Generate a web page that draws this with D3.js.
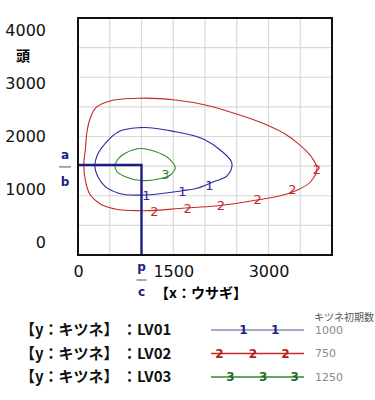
<!DOCTYPE html>
<html>
<head>
<meta charset="utf-8">
<script src="https://cdn.jsdelivr.net/npm/d3@7"></script>
<style>
  body { margin: 0; background: #fff; }
  text { font-family: "DejaVu Sans", "Noto Sans CJK JP", sans-serif; }
  .jp { font-family: "Noto Sans CJK JP", sans-serif; }
  .grid line { stroke: #d9d9d9; stroke-width: 1.2; }
  .orbit { fill: none; stroke-width: 1.1; }
  .axis text { font-size: 16px; fill: #111; }
</style>
</head>
<body>
<svg width="375" height="400"></svg>
<script>
// trajectories: [rabbits x, foxes y]
const lv01 = [[981,2149],[1532,2081],[2005,1941],[2241,1772],[2426,1536],[2347,1334],[2136,1237],[1874,1126],
              [1638,1085],[1060,1013],[639,1042],[430,1153],[324,1300],[265,1519],[304,1688],[430,1885],[639,2081]]
const lv02 = [[950,2645],[1532,2616],[2005,2532],[2446,2397],[2977,2194],[3250,2050],[3490,1860],[3680,1650],
              [3764,1469],[3659,1232],[3391,1068],[2819,928],[2162,827],[1690,793],[1008,748],[587,776],
              [351,861],[194,1013],[115,1266],[91,1519],[115,1772],[146,2110],[194,2313],[272,2476],[477,2591]]
const lv03 = [[981,1798],[1217,1747],[1422,1637],[1532,1469],[1454,1350],[1265,1283],[997,1258],[745,1322],
              [619,1401],[580,1502],[619,1604],[745,1717]]

// number markers along each curve
const marks01 = [[1076,1013],[1643,1080],[2068,1182]]
const marks02 = [[1202,743],[1726,788],[2252,844],[2829,940],[3375,1109],[3764,1447]]
const marks03 = [[1375,1367]]

const equilibrium = {x: 1000, y: 1520}   // c/p , a/b

const xTicks = [0, 1500, 3000]
const yTicks = [0, 1000, 2000, 3000, 4000]
const gridValues = d3.range(0, 4001, 500)

const seriesNames = ["LV01", "LV02", "LV03"]
const seriesLabels = ["1", "2", "3"]
const initialFox = [1000, 750, 1250]
const colors = ["#2b2b9c", "#c62828", "#2e8a2e"]

const svg = d3.select("svg"),
      margin = {top: 18, left: 78},
      width = 254,
      height = 237,
      g = svg.append("g").attr("transform", "translate(" + margin.left + "," + margin.top + ")")

const x = d3.scaleLinear().domain([0, 4000]).range([0, width]),
      y = d3.scaleLinear().domain([0, 4000]).range([height, 0]),
      // the y labels in the picture are squeezed compared with the grid
      yLabel = d3.scaleLinear().domain([0, 4000]).range([224.5, 12.5])

// grid
const grid = g.append("g").attr("class", "grid")
grid.selectAll(".v").data(gridValues).enter().append("line")
  .attr("x1", d => x(d)).attr("x2", d => x(d)).attr("y1", 0).attr("y2", height)
grid.selectAll(".h").data(gridValues).enter().append("line")
  .attr("y1", d => y(d)).attr("y2", d => y(d)).attr("x1", 0).attr("x2", width)

const line = d3.line()
  .x(d => x(d[0]))
  .y(d => y(d[1]))
  .curve(d3.curveCatmullRomClosed.alpha(1))

const orbits = [lv01, lv02, lv03]
const marks = [marks01, marks02, marks03]

orbits.forEach(function (data, i) {
  g.append("path")
    .attr("class", "orbit")
    .attr("d", line(data))
    .style("stroke", colors[i])
})

// equilibrium lines
const eqColor = "#1d1d85"
g.append("path")
  .attr("d", "M" + x(0) + "," + y(equilibrium.y) + "H" + x(equilibrium.x) + "V" + y(0))
  .attr("fill", "none")
  .attr("stroke", eqColor)
  .attr("stroke-width", 2.4)

marks.forEach(function (data, i) {
  g.selectAll(".mark" + i).data(data).enter().append("text")
    .attr("x", d => x(d[0]))
    .attr("y", d => y(d[1]))
    .attr("dy", "0.36em")
    .attr("text-anchor", "middle")
    .style("font-size", "13px")
    .style("fill", colors[i])
    .text(seriesLabels[i])
})

// frame
g.append("rect")
  .attr("width", width).attr("height", height)
  .attr("fill", "none").attr("stroke", "#111").attr("stroke-width", 2)

// axes
g.append("g")
  .attr("class", "axis")
  .call(d3.axisLeft(yLabel).tickValues(yTicks).tickSize(0).tickPadding(32).tickFormat(d3.format("")))
  .call(a => a.select(".domain").remove())
  .selectAll("text").style("font-size", "16px").attr("font-family", null)

g.append("g")
  .attr("class", "axis")
  .attr("transform", "translate(0," + height + ")")
  .call(d3.axisBottom(x).tickValues(xTicks).tickSize(0).tickPadding(11).tickFormat(d3.format("")))
  .call(a => a.select(".domain").remove())
  .selectAll("text").style("font-size", "16px").attr("font-family", null)

// a/b and p/c
const fracStyle = sel => sel.attr("text-anchor", "middle").style("font-size", "12px")
  .style("font-weight", "bold").style("fill", eqColor)
const ax = x(0) - 13, ay = y(equilibrium.y)
g.append("text").attr("x", ax).attr("y", ay - 10).attr("dy", "0.36em").text("a").call(fracStyle)
g.append("line").attr("x1", ax - 6).attr("x2", ax + 6).attr("y1", ay + 2).attr("y2", ay + 2)
  .attr("stroke", "#555").attr("stroke-width", 1)
g.append("text").attr("x", ax).attr("y", ay + 17).attr("dy", "0.36em").text("b").call(fracStyle)

const px = x(equilibrium.x)
g.append("text").attr("x", px).attr("y", height + 12).attr("dy", "0.36em").text("p").call(fracStyle)
g.append("line").attr("x1", px - 5).attr("x2", px + 5).attr("y1", height + 25).attr("y2", height + 25)
  .attr("stroke", "#555").attr("stroke-width", 1)
g.append("text").attr("x", px).attr("y", height + 37).attr("dy", "0.36em").text("c").call(fracStyle)

// axis titles
svg.append("text")
  .attr("class", "jp")
  .attr("x", 23).attr("y", 56).attr("dy", "0.36em")
  .attr("text-anchor", "middle")
  .style("font-size", "14px").style("font-weight", "bold")
  .text("頭")

svg.append("text")
  .attr("class", "jp")
  .attr("x", 201).attr("y", 293).attr("dy", "0.36em")
  .attr("text-anchor", "middle")
  .style("font-size", "14px").style("font-weight", "bold")
  .text("【x：ウサギ】")

// legend
const legendY = d3.scalePoint().domain(seriesNames).range([330, 377])
const legendMarkPos = [[0.35, 0.69], [0.09, 0.45, 0.80], [0.21, 0.56, 0.90]]
const lineColors = ["#8a8ac6", "#c62828", "#2e8a2e"]
const markColors = ["#1d1d85", "#b01e1e", "#1e6e1e"]
const lx0 = 211, lx1 = 304

svg.append("text")
  .attr("class", "jp")
  .attr("x", 314).attr("y", 317).attr("dy", "0.36em")
  .style("font-size", "10px").style("fill", "#555")
  .text("キツネ初期数")

seriesNames.forEach(function (name, i) {
  const ly = legendY(name)
  svg.append("text")
    .attr("class", "jp")
    .attr("x", 20).attr("y", ly).attr("dy", "0.36em")
    .style("font-size", "15px").style("font-weight", "bold").style("fill", "#111")
    .text("【y：キツネ】 ：" + name)

  svg.append("line")
    .attr("x1", lx0).attr("x2", lx1).attr("y1", ly).attr("y2", ly)
    .attr("stroke", lineColors[i]).attr("stroke-width", 1.3)

  svg.selectAll(".lm" + i).data(legendMarkPos[i]).enter().append("text")
    .attr("x", d => lx0 + d * (lx1 - lx0))
    .attr("y", ly).attr("dy", "0.36em")
    .attr("text-anchor", "middle")
    .style("font-size", "12px").style("font-weight", "bold")
    .style("fill", markColors[i])
    .text(seriesLabels[i])

  svg.append("text")
    .attr("x", 315).attr("y", ly).attr("dy", "0.36em")
    .style("font-size", "11px").style("fill", "#888")
    .text(initialFox[i])
})
</script>
</body>
</html>
